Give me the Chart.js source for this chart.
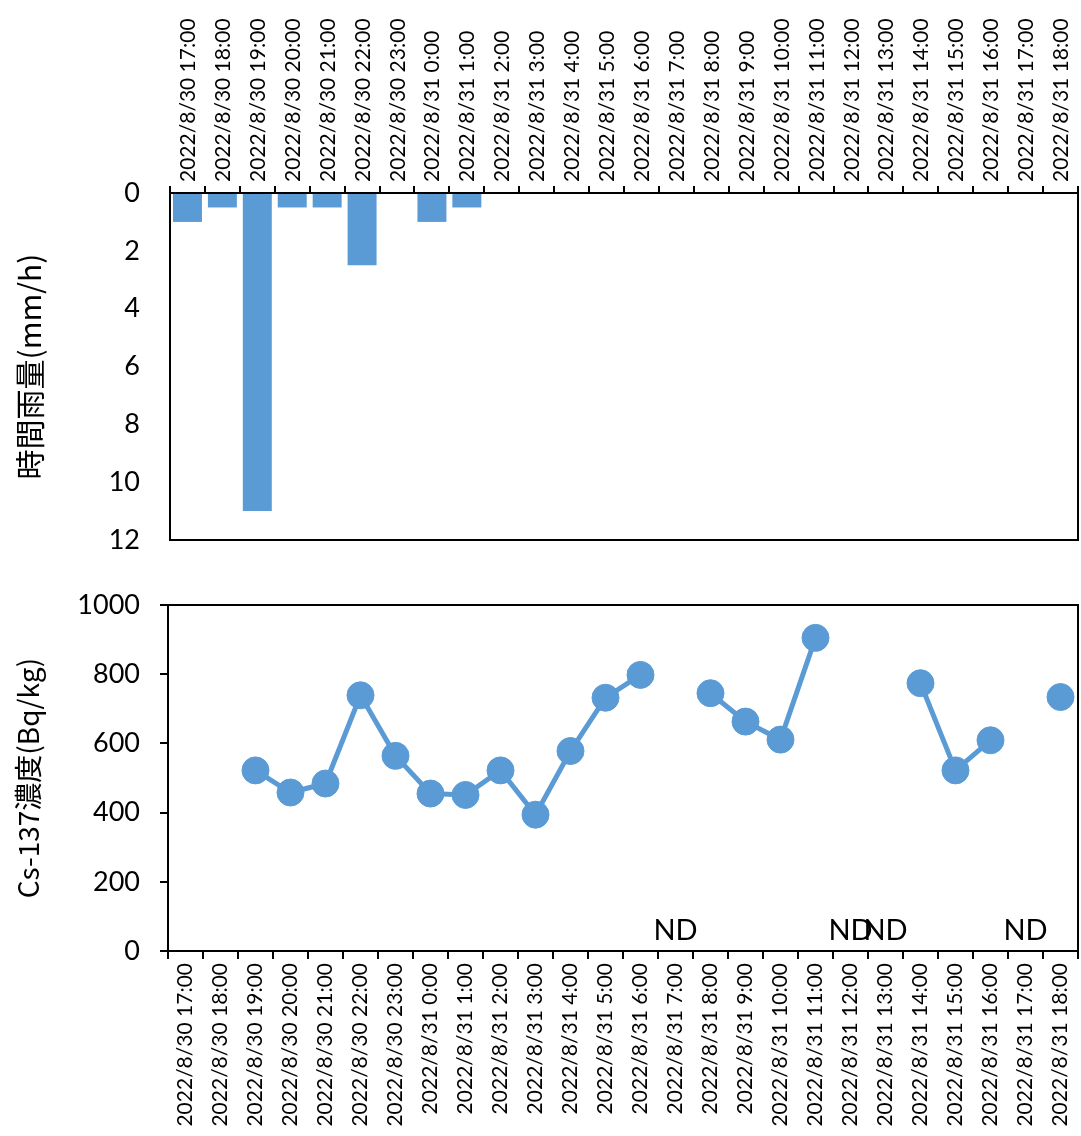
<!DOCTYPE html>
<html>
<head>
<meta charset="utf-8">
<script src="https://cdn.jsdelivr.net/npm/chart.js@4"></script>
<style>
  html, body { margin: 0; padding: 0; background: #fff; overflow: hidden; }
  #wrap { position: relative; width: 1081px; height: 1136px; }
  #rain-chart { position: absolute; left: 0; top: 0; }
  #cs-chart { position: absolute; left: 0; top: 560px; }
</style>
</head>
<body>
<div id="wrap">
  <canvas id="rain-chart" width="1081" height="556"></canvas>
  <canvas id="cs-chart" width="1081" height="576"></canvas>
</div>
<script>
const categories = [
    '2022/8/30 17:00', '2022/8/30 18:00', '2022/8/30 19:00', '2022/8/30 20:00',
    '2022/8/30 21:00', '2022/8/30 22:00', '2022/8/30 23:00', '2022/8/31 0:00',
    '2022/8/31 1:00', '2022/8/31 2:00', '2022/8/31 3:00', '2022/8/31 4:00',
    '2022/8/31 5:00', '2022/8/31 6:00', '2022/8/31 7:00', '2022/8/31 8:00',
    '2022/8/31 9:00', '2022/8/31 10:00', '2022/8/31 11:00', '2022/8/31 12:00',
    '2022/8/31 13:00', '2022/8/31 14:00', '2022/8/31 15:00', '2022/8/31 16:00',
    '2022/8/31 17:00', '2022/8/31 18:00'
];

// hourly rainfall (mm/h)
const rainfall = [1, 0.5, 11, 0.5, 0.5, 2.5, 0, 1, 0.5, 0, 0, 0, 0, 0, 0, 0, 0, 0, 0, 0, 0, 0, 0, 0, 0, 0];

// Cs-137 concentration (Bq/kg), null = no sample / ND
const cs137 = [null, null, 522, 458, 484, 739, 564, 455, 451, 522, 394, 578,
    732, 798, null, 745, 663, 611, 905, null, null, 774, 522, 609, null, 734];

const ndCategories = ['2022/8/31 7:00', '2022/8/31 12:00', '2022/8/31 13:00', '2022/8/31 17:00'];

const rainTicks = [0, 2, 4, 6, 8, 10, 12];
const csTicks = [0, 200, 400, 600, 800, 1000];

const blue = '#5B9BD5';
const latin = 'Lato, "Liberation Sans", sans-serif';
const cjk = '"Noto Sans CJK JP", "Noto Sans", sans-serif';

const frame = {
    id: 'frame',
    afterDraw(chart) {
        const a = chart.chartArea;
        const ctx = chart.ctx;
        ctx.save();
        ctx.strokeStyle = '#000';
        ctx.lineWidth = 2;
        ctx.strokeRect(a.left, a.top, a.right - a.left, a.bottom - a.top);
        ctx.restore();
    }
};

const ndText = {
    id: 'ndText',
    afterDatasetsDraw(chart) {
        const x = chart.scales.x, y = chart.scales.y;
        const ctx = chart.ctx;
        ctx.save();
        ctx.fillStyle = '#000';
        ctx.font = '29px ' + latin;
        ctx.textAlign = 'center';
        ctx.textBaseline = 'middle';
        ndCategories.forEach(c => {
            const i = categories.indexOf(c);
            ctx.fillText('ND', x.getPixelForValue(i), y.getPixelForValue(60));
        });
        ctx.restore();
    }
};

// keep tick-label padding from shrinking the plot area
function noPad(s) {
    s.paddingTop = 0;
    s.paddingBottom = 0;
    s.paddingLeft = 0;
    s.paddingRight = 0;
}

Chart.defaults.font.family = latin;
Chart.defaults.color = '#000';
Chart.defaults.animation = false;

new Chart(document.getElementById('rain-chart'), {
    type: 'bar',
    data: {
        labels: categories,
        datasets: [{
            label: '時間雨量',
            data: rainfall,
            backgroundColor: blue,
            barPercentage: 0.83,
            categoryPercentage: 1
        }]
    },
    options: {
        responsive: false,
        layout: { autoPadding: false, padding: { top: 0, right: 3, bottom: 16, left: 0 } },
        plugins: { legend: { display: false }, tooltip: { enabled: false } },
        scales: {
            x: {
                position: 'top',
                border: { color: '#000', width: 2 },
                grid: { drawOnChartArea: false, color: '#000', lineWidth: 2, tickLength: 7, offset: true },
                ticks: { minRotation: 90, maxRotation: 90, autoSkip: false, font: { size: 21 }, padding: 4, labelOffset: 26 },
                afterFit(s) { s.height = 193; noPad(s); }
            },
            y: {
                reverse: true,
                min: 0,
                max: 12,
                afterBuildTicks(s) { s.ticks = rainTicks.map(v => ({ value: v })); },
                border: { color: '#000', width: 2 },
                grid: { display: true, drawOnChartArea: false, drawTicks: false },
                ticks: { font: { size: 27 }, padding: 30 },
                title: { display: true, text: '時間雨量(mm/h)', font: { family: cjk, size: 30 }, padding: { top: 12, bottom: 0 } },
                afterFit(s) { s.width = 170; noPad(s); }
            }
        }
    },
    plugins: [frame]
});

new Chart(document.getElementById('cs-chart'), {
    type: 'line',
    data: {
        labels: categories,
        datasets: [{
            label: 'Cs-137濃度',
            data: cs137,
            borderColor: blue,
            backgroundColor: blue,
            borderWidth: 5,
            pointRadius: 13.5,
            pointBorderWidth: 1,
            pointBackgroundColor: blue,
            pointBorderColor: blue,
            spanGaps: false
        }]
    },
    options: {
        responsive: false,
        layout: { autoPadding: false, padding: { top: 45, right: 3, bottom: 0, left: 0 } },
        plugins: { legend: { display: false }, tooltip: { enabled: false } },
        scales: {
            x: {
                offset: true,
                border: { color: '#000', width: 2 },
                grid: { drawOnChartArea: false, color: '#000', lineWidth: 2, tickLength: 8, offset: true },
                ticks: { minRotation: 90, maxRotation: 90, autoSkip: false, font: { size: 21 }, padding: 4 },
                afterFit(s) { s.height = 185; noPad(s); }
            },
            y: {
                min: 0,
                max: 1000,
                ticks: {
                    stepSize: 100,
                    font: { size: 27 },
                    padding: 20,
                    callback: v => csTicks.includes(v) ? v : ''
                },
                border: { color: '#000', width: 2 },
                grid: { drawOnChartArea: false, color: '#000', lineWidth: 2, tickLength: 8 },
                title: { display: true, text: 'Cs-137濃度(Bq/kg)', font: { family: cjk, size: 28 }, padding: { top: 12, bottom: 0 } },
                afterFit(s) { s.width = 168; noPad(s); }
            }
        }
    },
    plugins: [frame, ndText]
});
</script>
</body>
</html>
